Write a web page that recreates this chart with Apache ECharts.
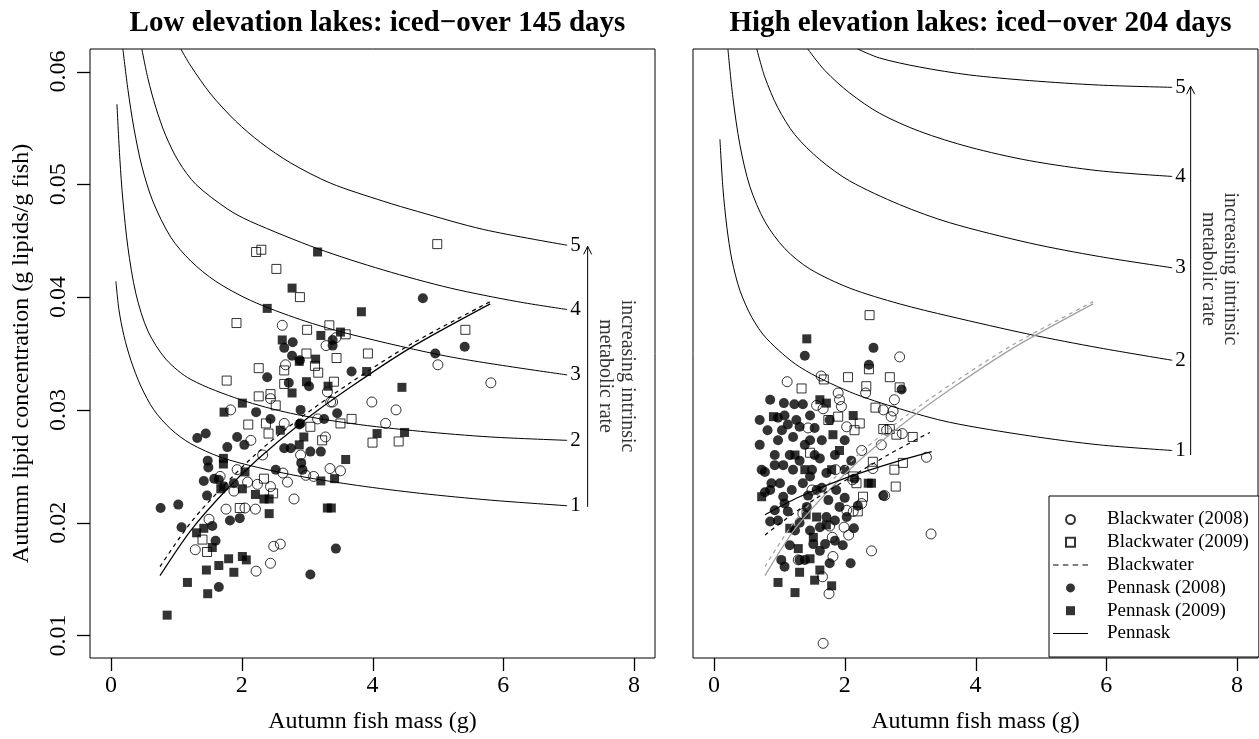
<!DOCTYPE html>
<html><head><meta charset="utf-8">
<script src="https://cdn.jsdelivr.net/npm/echarts@6/dist/echarts.min.js"></script>
<style>html,body{margin:0;padding:0;background:#fff}#c{width:1259px;height:739px}</style>
</head><body><div id="c"></div>
<script>
// ---------- data: Low elevation lakes ----------
const lowBW2008 = [[2.62,0.0375],[3.29,0.0357],[3.44,0.0364],[2.67,0.0340],[3.31,0.0316],[3.99,0.0307],[3.36,0.0307],[2.44,0.0310],[1.83,0.0300],[3.16,0.0292],[4.20,0.0288],[2.14,0.0273],[3.28,0.0276],[2.65,0.0288],[1.29,0.0176],[2.44,0.0164],[2.22,0.0157],[2.49,0.0179],[2.59,0.0181],[1.76,0.0212],[2.05,0.0213],[2.21,0.0212],[2.80,0.0221],[2.70,0.0236],[2.63,0.0244],[2.98,0.0242],[3.10,0.0241],[3.35,0.0248],[3.51,0.0246],[2.24,0.0234],[2.09,0.0236],[1.93,0.0247],[1.67,0.0241],[1.88,0.0228],[2.44,0.0232],[1.50,0.0203],[5.00,0.0340],[5.81,0.0324],[4.36,0.0300],[3.39,0.0307],[2.32,0.0260],[2.90,0.0260]];
const lowBW2009 = [[2.22,0.0440],[2.30,0.0442],[2.53,0.0425],[2.89,0.0400],[1.92,0.0377],[3.00,0.0371],[3.34,0.0375],[3.59,0.0367],[3.45,0.0346],[3.93,0.0350],[2.99,0.0350],[2.26,0.0337],[2.65,0.0335],[3.12,0.0339],[3.17,0.0333],[1.77,0.0326],[3.41,0.0325],[2.65,0.0323],[2.26,0.0312],[2.44,0.0314],[2.52,0.0304],[2.10,0.0287],[2.37,0.0288],[3.05,0.0285],[3.51,0.0288],[3.68,0.0292],[2.41,0.0279],[4.00,0.0271],[3.23,0.0273],[1.40,0.0185],[1.47,0.0174],[1.97,0.0213],[2.34,0.0239],[2.48,0.0226],[4.99,0.0447],[5.42,0.0371],[4.40,0.0272]];
const lowPN2008 = [[2.78,0.0360],[2.65,0.0355],[2.77,0.0348],[3.39,0.0362],[3.39,0.0357],[2.39,0.0329],[2.72,0.0324],[3.03,0.0321],[3.68,0.0334],[2.22,0.0298],[2.44,0.0292],[2.90,0.0300],[3.46,0.0297],[3.26,0.0292],[1.45,0.0279],[1.32,0.0275],[1.93,0.0276],[2.04,0.0269],[1.78,0.0267],[2.90,0.0288],[0.76,0.0213],[1.03,0.0216],[1.08,0.0196],[1.48,0.0255],[1.49,0.0249],[1.42,0.0237],[1.58,0.0239],[1.65,0.0238],[1.73,0.0232],[1.88,0.0235],[1.47,0.0224],[1.55,0.0197],[1.82,0.0202],[1.97,0.0204],[1.60,0.0184],[1.65,0.0143],[3.05,0.0154],[3.44,0.0177],[2.91,0.0253],[2.93,0.0247],[3.05,0.0263],[2.65,0.0266],[2.75,0.0266],[2.88,0.0287],[4.77,0.0399],[5.41,0.0356],[4.96,0.0350],[2.89,0.0344],[2.52,0.0247],[3.21,0.0263]];
const lowPN2009 = [[3.16,0.0440],[2.77,0.0408],[2.39,0.0390],[3.83,0.0387],[3.21,0.0366],[3.51,0.0369],[2.62,0.0362],[2.88,0.0343],[3.13,0.0345],[2.99,0.0325],[3.32,0.0321],[3.91,0.0334],[2.01,0.0306],[1.73,0.0298],[2.77,0.0315],[2.59,0.0282],[4.07,0.0279],[2.95,0.0276],[1.72,0.0257],[1.72,0.0252],[2.05,0.0245],[2.01,0.0230],[1.68,0.0230],[2.21,0.0225],[2.34,0.0221],[2.42,0.0221],[2.42,0.0208],[1.31,0.0191],[1.42,0.0195],[1.55,0.0178],[3.21,0.0237],[3.42,0.0239],[3.59,0.0256],[3.31,0.0213],[3.37,0.0213],[1.80,0.0168],[2.01,0.0170],[2.07,0.0167],[1.65,0.0162],[1.46,0.0158],[1.88,0.0156],[1.17,0.0147],[1.48,0.0137],[0.86,0.0118],[2.88,0.0269],[4.45,0.0320],[4.49,0.0280]];
const lowPennaskFit = [[0.75,0.0153],[1.22,0.0193],[1.73,0.0227],[2.24,0.0256],[2.90,0.0288],[3.66,0.0320],[4.58,0.0355],[5.80,0.0394]];
const lowBlackwaterFit = [[0.75,0.0161],[1.22,0.0200],[1.73,0.0233],[2.24,0.0262],[2.90,0.0293],[3.66,0.0324],[4.58,0.0358],[5.80,0.0396]];
const lowCurve1 = [[0.076,0.0414],[0.122,0.0389],[0.198,0.0366],[0.305,0.0344],[0.458,0.0321],[0.656,0.0300],[0.916,0.0283],[1.221,0.0270],[1.679,0.0258],[2.244,0.0249],[2.901,0.0241],[3.771,0.0233],[4.733,0.0226],[5.802,0.0220],[6.977,0.0215]];
const lowCurve2 = [[0.092,0.0571],[0.137,0.0522],[0.183,0.0486],[0.260,0.0444],[0.382,0.0403],[0.565,0.0370],[0.840,0.0345],[1.221,0.0327],[1.985,0.0309],[2.748,0.0297],[3.664,0.0288],[4.733,0.0281],[5.802,0.0276],[6.977,0.0273]];
const lowCurve3 = [[0.183,0.0620],[0.260,0.0584],[0.351,0.0550],[0.473,0.0516],[0.641,0.0485],[0.916,0.0453],[1.221,0.0432],[1.603,0.0414],[2.137,0.0397],[2.901,0.0380],[3.664,0.0367],[5.191,0.0347],[6.977,0.0331]];
const lowCurve4 = [[0.473,0.0620],[0.565,0.0594],[0.687,0.0568],[0.840,0.0543],[1.038,0.0520],[1.298,0.0500],[1.786,0.0478],[2.137,0.0467],[3.160,0.0443],[4.168,0.0424],[5.191,0.0408],[6.214,0.0396],[6.977,0.0389]];
const lowCurve5 = [[1.069,0.0620],[1.221,0.0605],[1.527,0.0580],[1.908,0.0556],[2.290,0.0537],[2.748,0.0519],[3.359,0.0501],[4.168,0.0485],[4.687,0.0476],[5.695,0.0460],[6.977,0.0446]];
const lowArrow = [[7.29,0.0214],[7.29,0.0445]];

// ---------- data: High elevation lakes ----------
const highBW2008 = [[1.12,0.0325],[1.64,0.0330],[2.84,0.0347],[2.32,0.0315],[1.90,0.0315],[1.92,0.0309],[1.95,0.0303],[2.76,0.0309],[2.59,0.0300],[2.74,0.0299],[2.71,0.0294],[1.44,0.0284],[2.03,0.0285],[2.64,0.0282],[2.88,0.0279],[2.56,0.0269],[3.25,0.0258],[1.67,0.0301],[1.57,0.0304],[1.67,0.0093],[3.32,0.0190],[2.41,0.0175],[1.76,0.0137],[1.66,0.0152],[1.82,0.0170],[1.81,0.0187],[1.99,0.0196],[2.06,0.0189],[1.77,0.0197],[2.26,0.0217],[2.03,0.0211],[2.13,0.0210],[2.43,0.0248],[2.12,0.0238],[2.61,0.0224],[1.29,0.0167],[1.36,0.0208],[1.86,0.0247],[1.50,0.0229],[2.26,0.0264]];
const highBW2009 = [[2.38,0.0384],[1.34,0.0319],[1.68,0.0327],[2.05,0.0329],[2.33,0.0321],[2.69,0.0329],[2.37,0.0336],[2.47,0.0302],[1.90,0.0294],[2.23,0.0288],[2.15,0.0282],[2.59,0.0283],[2.69,0.0283],[3.04,0.0276],[2.79,0.0278],[1.75,0.0291],[1.47,0.0262],[2.89,0.0253],[2.76,0.0247],[2.78,0.0232],[2.20,0.0210],[2.28,0.0223],[2.18,0.0235],[2.43,0.0254],[2.13,0.0241],[2.84,0.0320]];
const highPN2008 = [[1.39,0.0348],[2.44,0.0355],[2.37,0.0340],[2.87,0.0318],[1.07,0.0306],[1.23,0.0305],[1.36,0.0305],[1.47,0.0295],[1.26,0.0291],[1.31,0.0285],[0.98,0.0273],[1.21,0.0276],[0.93,0.0260],[0.78,0.0245],[0.88,0.0235],[1.01,0.0235],[1.21,0.0247],[1.31,0.0255],[1.06,0.0223],[1.08,0.0217],[0.86,0.0201],[1.13,0.0210],[1.42,0.0214],[1.57,0.0229],[1.47,0.0241],[1.72,0.0244],[1.87,0.0229],[1.92,0.0214],[1.72,0.0205],[1.62,0.0196],[1.47,0.0193],[1.52,0.0181],[1.62,0.0175],[1.70,0.0181],[1.97,0.0180],[2.14,0.0195],[2.09,0.0164],[1.77,0.0164],[1.03,0.0167],[1.08,0.0161],[1.31,0.0167],[2.59,0.0224],[2.03,0.0205],[2.10,0.0255],[1.06,0.0251],[1.36,0.0235],[1.75,0.0220],[0.70,0.0269],[0.86,0.0309],[1.65,0.0273],[1.54,0.0260],[1.85,0.0260],[2.00,0.0273],[1.47,0.0273],[0.98,0.0293],[1.13,0.0287],[2.15,0.0239],[0.78,0.0227],[0.93,0.0211],[1.24,0.0193],
  [0.82,0.0282],[1.04,0.0282],[0.93,0.0251],[1.16,0.0260],[1.39,0.0269],[1.62,0.0257],[0.86,0.0229],[1.19,0.0229],[1.44,0.0224],[1.65,0.0231],[2.00,0.0222],[0.98,0.0202],[1.31,0.0200],[1.85,0.0202],[1.16,0.0180],[1.39,0.0167],[1.85,0.0184],[1.54,0.0284],[1.77,0.0291],[0.70,0.0291],[0.73,0.0247],[2.00,0.0247],[2.20,0.0215],[1.08,0.0295],[1.50,0.0247]];
const highPN2009 = [[1.42,0.0363],[0.91,0.0294],[1.62,0.0309],[1.72,0.0306],[2.13,0.0295],[1.82,0.0278],[0.98,0.0147],[1.24,0.0138],[1.31,0.0156],[1.54,0.0149],[1.29,0.0177],[1.47,0.0168],[1.16,0.0195],[1.52,0.0187],[2.36,0.0235],[2.41,0.0235],[1.57,0.0205],[1.72,0.0198],[0.73,0.0223],[1.41,0.0207],[1.62,0.0158],[1.80,0.0144],[1.39,0.0247],[1.80,0.0247],[1.24,0.0260],[1.92,0.0264]];
const highPennaskFit = [[0.78,0.0207],[1.31,0.0223],[2.08,0.0241],[2.84,0.0255],[3.33,0.0263]];
const highBlackwaterFit = [[0.78,0.0189],[1.31,0.0212],[2.08,0.0240],[2.69,0.0261],[3.30,0.0280]];
const highRefPennask = [[0.78,0.0153],[1.22,0.0193],[1.73,0.0227],[2.24,0.0256],[2.90,0.0288],[3.66,0.0320],[4.58,0.0355],[5.80,0.0394]];
const highRefBlackwater = [[0.78,0.0161],[1.22,0.0200],[1.73,0.0233],[2.24,0.0262],[2.90,0.0293],[3.66,0.0324],[4.58,0.0358],[5.80,0.0396]];
const highCurve1 = [[0.092,0.0540],[0.137,0.0497],[0.198,0.0462],[0.275,0.0433],[0.397,0.0406],[0.580,0.0382],[0.809,0.0363],[1.313,0.0338],[2.076,0.0316],[2.840,0.0301],[3.603,0.0289],[4.824,0.0277],[5.893,0.0269],[7.008,0.0264]];
const highCurve2 = [[0.214,0.0620],[0.290,0.0577],[0.397,0.0535],[0.550,0.0498],[0.779,0.0467],[1.084,0.0443],[1.466,0.0425],[2.076,0.0408],[2.840,0.0394],[3.603,0.0383],[4.824,0.0367],[5.893,0.0355],[7.008,0.0344]];
const highCurve3 = [[0.656,0.0620],[0.779,0.0595],[0.977,0.0568],[1.237,0.0544],[1.618,0.0522],[2.076,0.0503],[2.840,0.0482],[3.603,0.0466],[4.824,0.0448],[5.893,0.0436],[7.008,0.0426]];
const highCurve4 = [[1.435,0.0620],[1.695,0.0601],[2.076,0.0581],[2.534,0.0563],[3.145,0.0547],[3.908,0.0533],[4.824,0.0521],[5.893,0.0512],[7.008,0.0507]];
const highCurve5 = [[2.198,0.0620],[2.534,0.0612],[3.145,0.0604],[3.908,0.0597],[4.824,0.0592],[5.893,0.0588],[7.008,0.0586]];
const highArrow = [[7.29,0.0260],[7.29,0.0587]];

const curveLabels = ['1','2','3','4','5'];
const xTickValues = [0, 2, 4, 6, 8];
const yTickValues = [0.01, 0.02, 0.03, 0.04, 0.05, 0.06];
const titles = ['Low elevation lakes: iced\u2212over 145 days', 'High elevation lakes: iced\u2212over 204 days'];
const legendNames = ['Blackwater (2008)','Blackwater (2009)','Blackwater','Pennask (2008)','Pennask (2009)','Pennask'];

// ---------- layout ----------
const FONT = '"Liberation Serif","Times New Roman",serif';
const XR = [-0.32, 8.32], YR = [0.008, 0.062];
const T = 49, H = 609, W = 565;
const panelsLeft = [90, 693];
const TICK = 13;
const txt = (size, extra) => Object.assign({color: '#000', fontFamily: FONT, fontSize: size}, extra || {});

const grids = [], xAxes = [], yAxes = [];
panelsLeft.forEach((L, p) => {
  grids.push({left: L, top: T, width: W, height: H, show: true, borderColor: '#000', borderWidth: 1, backgroundColor: 'transparent'});
  xAxes.push({gridIndex: p, type: 'value', min: XR[0], max: XR[1], position: 'bottom',
    axisLine: {show: false, onZero: false}, splitLine: {show: false}, axisTick: {show: false},
    axisLabel: txt(24, {show: true, margin: 16, customValues: xTickValues}),
    name: 'Autumn fish mass (g)', nameLocation: 'middle', nameGap: 52, nameTextStyle: txt(24)});
  yAxes.push(p === 0 ? {gridIndex: p, type: 'value', min: YR[0], max: YR[1], position: 'left',
    axisLine: {show: false, onZero: false}, splitLine: {show: false}, axisTick: {show: false},
    axisLabel: txt(24, {show: true, margin: 19, rotate: 90, customValues: yTickValues, formatter: v => v.toFixed(2)}),
    name: 'Autumn lipid concentration (g lipids/g fish)', nameLocation: 'middle', nameGap: 56, nameRotate: 90,
    nameTextStyle: txt(24)}
    : {gridIndex: p, type: 'value', min: YR[0], max: YR[1], show: false});
});

const SQ = 'path://M0,0L10,0L10,10L0,10Z';
const DASH_ICON = 'path://M0,0H5.5V1H0Z M9.7,0H15.2V1H9.7Z M19.4,0H24.9V1H19.4Z M29.1,0H34.6V1H29.1Z';
const SOLID_ICON = 'path://M0,0H34.6V1H0Z';
const ax = p => ({xAxisIndex: p, yAxisIndex: p});
function pts(name, data, p, sq, filled) {
  return Object.assign({type: 'scatter', name, data,
    symbol: sq ? SQ : 'circle', symbolSize: sq ? 9 : 10, symbolKeepAspect: true,
    itemStyle: {color: filled ? '#000' : 'transparent', borderColor: '#000', borderWidth: filled ? 0 : 1},
    silent: true, z: 3}, ax(p));
}
function line(name, data, p, color, dashed, width) {
  return Object.assign({type: 'line', name, data, symbol: 'none', showSymbol: false, smooth: 0.3,
    lineStyle: {color, width: width || 1.2, type: dashed ? [4, 4] : 'solid'},
    itemStyle: {color}, silent: true, z: 4}, ax(p));
}
function curve(data, p, i) {
  return Object.assign({type: 'line', name: 'curve' + p + i, data, symbol: 'none', showSymbol: false,
    smooth: 0.3, lineStyle: {color: '#000', width: 1}, silent: true, z: 2,
    endLabel: {show: true, formatter: curveLabels[i], color: '#000', fontFamily: FONT, fontSize: 21, distance: 3}}, ax(p));
}
function arrow(data, p) {
  return Object.assign({type: 'line', name: 'arrow' + p, data, showSymbol: true,
    symbol: (v, params) => params.dataIndex === 1 ? 'path://M0,10L5,0L10,10' : 'none',
    symbolSize: [8, 8], symbolOffset: [0, 4],
    itemStyle: {color: 'none', borderColor: '#000', borderWidth: 1},
    lineStyle: {color: '#000', width: 1}, silent: true, z: 2}, ax(p));
}
function note(x, y, p) {
  return Object.assign({type: 'scatter', name: 'note' + p, data: [[x, y]],
    symbolSize: 1, itemStyle: {color: 'transparent'}, silent: true,
    label: {show: true, position: 'inside', rotate: -90, formatter: 'increasing intrinsic\nmetabolic rate',
      color: '#000', fontFamily: FONT, fontSize: 20, lineHeight: 22, align: 'center', verticalAlign: 'middle'}}, ax(p));
}
// R-style outward tick marks, positioned through the axis scale (snapped to the pixel grid)
function ticks(p, vals, isX) {
  return Object.assign({type: 'custom', name: 'ticks' + p + (isX ? 'x' : 'y'), silent: true, clip: false,
    zlevel: 1, z: 50,
    data: vals.map(v => isX ? [v, YR[0]] : [XR[0], v]),
    renderItem: (params, api) => {
      const c = api.coord([api.value(0), api.value(1)]);
      const x = Math.round(c[0]) + 0.5, y = Math.round(c[1]) + 0.5;
      const shape = isX ? {x1: x, y1: Math.round(c[1]), x2: x, y2: Math.round(c[1]) + TICK}
                        : {x1: Math.round(c[0]) - TICK, y1: y, x2: Math.round(c[0]), y2: y};
      return {type: 'line', shape, style: {stroke: '#000', lineWidth: 1.3, fill: null}};
    }}, ax(p));
}

const series = [];
[lowCurve1, lowCurve2, lowCurve3, lowCurve4, lowCurve5].forEach((c, i) => series.push(curve(c, 0, i)));
[highCurve1, highCurve2, highCurve3, highCurve4, highCurve5].forEach((c, i) => series.push(curve(c, 1, i)));
series.push(arrow(lowArrow, 0), arrow(highArrow, 1));
series.push(note(7.72, 0.0330, 0), note(7.72, 0.0425, 1));
series.push(ticks(0, xTickValues, true), ticks(1, xTickValues, true), ticks(0, yTickValues, false));
series.push(pts('Blackwater (2008)', lowBW2008, 0, false, false));
series.push(pts('Blackwater (2009)', lowBW2009, 0, true, false));
series.push(pts('Pennask (2008)', lowPN2008, 0, false, true));
series.push(pts('Pennask (2009)', lowPN2009, 0, true, true));
series.push(line('Blackwater', lowBlackwaterFit, 0, '#000', true));
series.push(line('Pennask', lowPennaskFit, 0, '#000', false));
series.push(pts('Blackwater (2008)', highBW2008, 1, false, false));
series.push(pts('Blackwater (2009)', highBW2009, 1, true, false));
series.push(pts('Pennask (2008)', highPN2008, 1, false, true));
series.push(pts('Pennask (2009)', highPN2009, 1, true, true));
series.push(line('Blackwater low ref', highRefBlackwater, 1, '#a0a0a0', true));
series.push(line('Pennask low ref', highRefPennask, 1, '#a0a0a0', false));
series.push(line('Blackwater', highBlackwaterFit, 1, '#000', true));
series.push(line('Pennask', highPennaskFit, 1, '#000', false));

const legendIcons = {'Blackwater (2008)': 'circle', 'Blackwater (2009)': SQ, 'Blackwater': DASH_ICON,
  'Pennask (2008)': 'circle', 'Pennask (2009)': SQ, 'Pennask': SOLID_ICON};

const chart = echarts.init(document.getElementById('c'), null, {renderer: 'canvas'});
chart.setOption({
  animation: false,
  backgroundColor: '#fff',
  title: titles.map((t, p) => ({text: t, left: panelsLeft[p] + W / 2, top: 4, textAlign: 'center',
    textStyle: txt(29, {fontWeight: 'bold'})})),
  grid: grids, xAxis: xAxes, yAxis: yAxes,
  legend: {
    data: legendNames.map(n => ({name: n, icon: legendIcons[n]})),
    orient: 'vertical', left: 1049, top: 496, padding: [14, 10, 14, 4],
    itemWidth: 35, itemHeight: 9, itemGap: 3.8, selectedMode: false, symbolKeepAspect: true,
    backgroundColor: '#fff', borderColor: '#000', borderWidth: 1, borderRadius: 0,
    textStyle: txt(19, {lineHeight: 19, padding: [0, 0, 0, 14]}), z: 10
  },
  series
});
</script></body></html>
